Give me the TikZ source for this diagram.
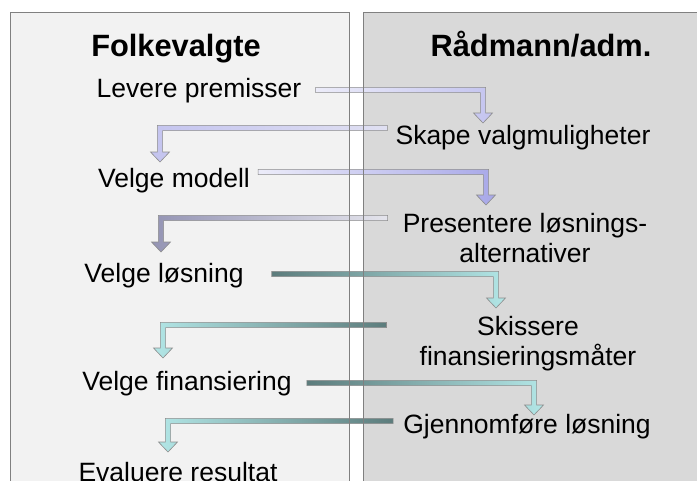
\documentclass[tikz,border=0pt]{standalone}
\usepackage{fontspec}
\setmainfont{Liberation Sans}
\usetikzlibrary{calc}
\definecolor{paneL}{HTML}{F2F2F2}
\definecolor{paneR}{HTML}{D9D9D9}
\definecolor{lavpale}{HTML}{ECECF9}
\definecolor{lavsoft}{HTML}{C4C4EF}
\definecolor{lavmist}{HTML}{E0E0F2}
\definecolor{lavdeep}{HTML}{A8A8E8}
\definecolor{lavgrey}{HTML}{9494B4}
\definecolor{lavfog}{HTML}{E4E4EC}
\definecolor{tealdark}{HTML}{5C7C7C}
\definecolor{teallight}{HTML}{B2E6E6}

% bent block arrow: from start point, sideways, then down to the tip
\newcommand\bentflow[4]{%
 \path[flow,left color=#3,right color=#4] let \p1=(#1), \p2=(#2), \n1={sign(\x2-\x1)} in
  (\x1,\y1+2.6pt) -- ({\x2+(\n1)*2.6pt},\y1+2.6pt) -- ({\x2+(\n1)*2.6pt},\y2+10pt)
  -- ({\x2+(\n1)*9.5pt},\y2+10pt) -- (\x2,\y2) -- ({\x2-(\n1)*9.5pt},\y2+10pt)
  -- ({\x2-(\n1)*2.6pt},\y2+10pt) -- ({\x2-(\n1)*2.6pt},\y1-2.6pt) -- (\x1,\y1-2.6pt) -- cycle;}

\begin{document}
\begin{tikzpicture}[x=1pt,y=1pt,
 heading/.style={anchor=base,inner sep=0pt,font=\fontsize{30.8}{36}\selectfont\bfseries},
 task/.style={anchor=base,inner sep=0pt,align=center,font=\fontsize{26.5}{30}\selectfont},
 flow/.style={draw=black!45,line width=0.6pt},
 panelrule/.style={draw=black!50,line width=0.8pt}]
\useasboundingbox (0,0) rectangle (697,-480);
\clip (0,0) rectangle (697,-480);
\fill[white] (0,0) rectangle (697,-480);
\fill[paneL] (10,-12) rectangle (349,-500);
\fill[paneR] (363,-12) rectangle (720,-500);
% column headings
\node[heading] (fv) at (176,-56) {Folkevalgte};
\node[heading] (ra) at (541,-56) {Rådmann/adm.};
% steps
\node[task] (lp) at (199,-97) {Levere premisser};
\node[task] (sv) at (523,-144) {Skape valgmuligheter};
\node[task] (vm) at (174,-187) {Velge modell};
\node[task] (pl) at (525,-262) {Presentere løsnings-\\alternativer};
\node[task] (vl) at (164,-282) {Velge løsning};
\node[task] (sf) at (528,-365) {Skissere\\finansieringsmåter};
\node[task] (vf) at (187,-390) {Velge finansiering};
\node[task] (gl) at (527,-433) {Gjennomføre løsning};
\node[task] (er) at (178,-481) {Evaluere resultat};
% arrows
\bentflow{[xshift=14pt,yshift=7pt]lp.base east}{[xshift=-40pt,yshift=21pt]sv.base}{lavpale}{lavsoft}
\bentflow{[xshift=-8pt,yshift=16pt]sv.base west}{[xshift=-14pt,yshift=25pt]vm.base}{lavsoft}{lavmist}
\bentflow{[xshift=8pt,yshift=15pt]vm.base east}{[xshift=-39pt,yshift=57pt]pl.base}{lavpale}{lavdeep}
\bentflow{[xshift=-15pt,yshift=44pt]pl.base west}{[xshift=-3pt,yshift=30pt]vl.base}{lavgrey}{lavfog}
\bentflow{[xshift=28pt,yshift=8pt]vl.base east}{[xshift=-32pt,yshift=57pt]sf.base}{tealdark}{teallight}
\bentflow{[xshift=-33pt,yshift=40pt]sf.base west}{[xshift=-24pt,yshift=32pt]vf.base}{teallight}{tealdark}
\bentflow{[xshift=15pt,yshift=7pt]vf.base east}{[xshift=7pt,yshift=18pt]gl.base}{tealdark}{teallight}
\bentflow{[xshift=-10pt,yshift=12pt]gl.base west}{[xshift=-10pt,yshift=29pt]er.base}{teallight}{tealdark}
% panel edges
\draw[panelrule] (10,-500) |- (349,-12) -- (349,-500);
\draw[panelrule] (363,-500) |- (720,-12);
\end{tikzpicture}
\end{document}
